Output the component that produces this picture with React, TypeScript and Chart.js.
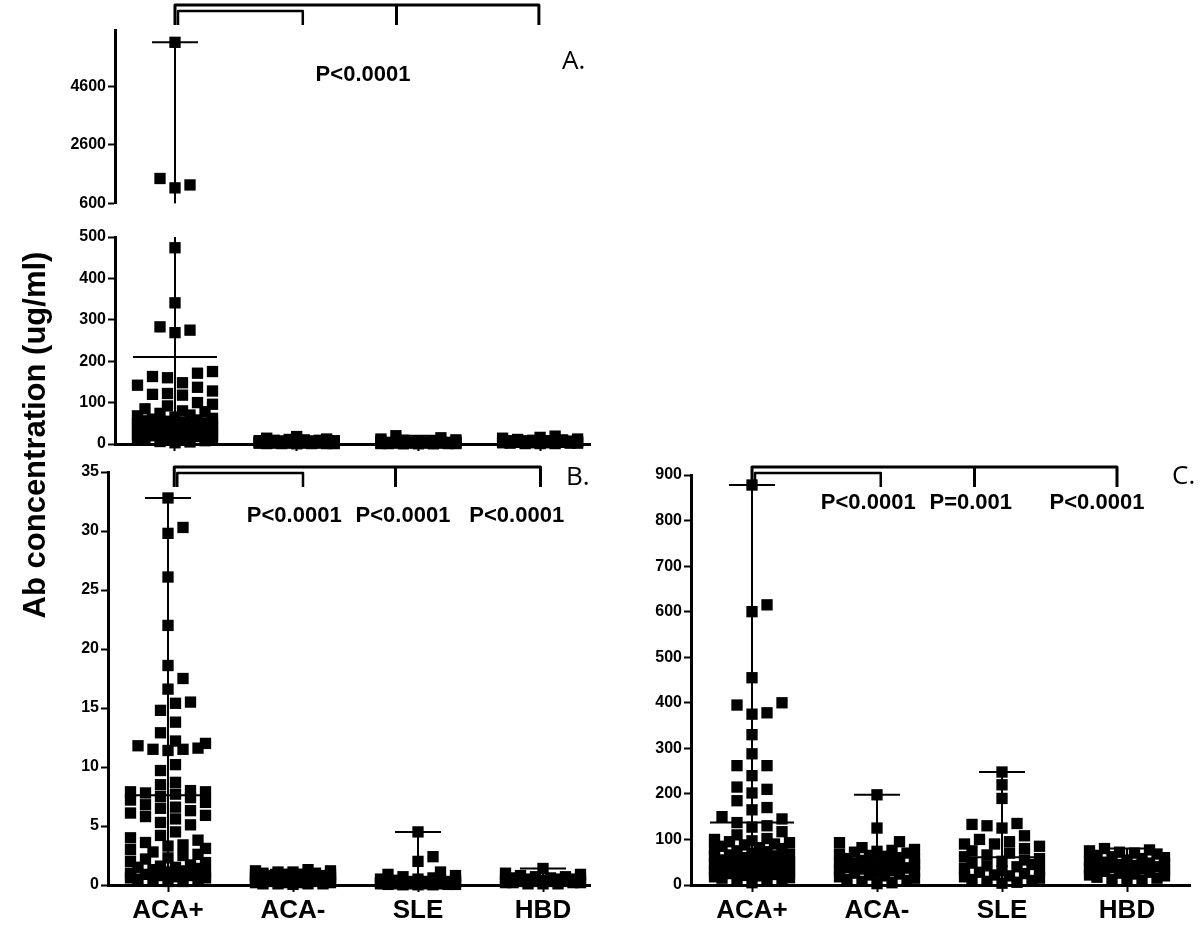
import React, { useEffect, useRef } from 'react';
import { Chart, registerables } from 'chart.js';
Chart.register(...registerables);

// ---------------- data ----------------
const categories = ['ACA+', 'ACA-', 'SLE', 'HBD'];

// Panel A (broken axis: upper 600-6500, lower 0-500)
const aAcaPos = [6100, 1450, 1230, 1130, 474, 341, 283, 275, 269, 175, 171, 163, 160, 148, 142, 137, 128, 122, 120, 118, 100, 96, 92, 85, 80, 78, 74, 70, 68, 65, 62, 60, 58, 56, 55, 53, 51, 50, 48, 46, 45, 43, 42, 40, 38, 36, 35, 33, 31, 30, 28, 26, 25, 23, 21, 20, 18, 16, 15, 13, 11, 10, 8, 6, 5, 3];
const aAcaNeg = [18, 14, 12, 11, 10, 9, 9, 8, 8, 7, 7, 6, 6, 6, 5, 5, 5, 4, 4, 4, 4, 3, 3, 3, 3, 2, 2, 2, 2, 2, 1, 1, 1, 1, 1, 0.5];
const aSle = [20, 15, 12, 10, 9, 8, 7, 7, 6, 6, 5, 5, 5, 4, 4, 4, 3, 3, 3, 3, 2, 2, 2, 2, 1, 1, 1, 1, 0.5, 0.5, 0.5];
const aHbd = [19, 16, 14, 12, 11, 10, 9, 8, 8, 7, 7, 6, 6, 5, 5, 4, 4, 3, 3, 3, 2, 2, 2, 1, 1, 1];
const aMeans = [210, 5, 5, 6];
const aUpperTicks = [600, 2600, 4600];
const aLowerTicks = [0, 100, 200, 300, 400, 500];
const aPTexts = ['P<0.0001'];

// Panel B
const bAcaPos = [32.8, 30.3, 29.8, 26.1, 22.0, 18.6, 17.5, 16.6, 15.5, 15.4, 14.8, 13.8, 12.9, 12.2, 12.0, 11.8, 11.6, 11.5, 11.5, 11.4, 10.2, 9.7, 8.7, 8.5, 8.0, 7.9, 7.9, 7.8, 7.7, 7.5, 7.4, 7.2, 7.0, 6.8, 6.6, 6.5, 6.3, 6.1, 5.9, 5.8, 5.6, 5.3, 5.1, 4.5, 4.2, 4.0, 3.8, 3.6, 3.4, 3.3, 3.1, 3.0, 2.8, 2.6, 2.5, 2.3, 2.2, 2.0, 1.9, 1.7, 1.6, 1.5, 1.5, 1.4, 1.3, 1.2, 1.1, 1.0, 1.0, 0.9, 0.8, 0.8, 0.7, 0.6, 0.6, 0.5, 0.5, 0.4, 0.3, 0.3];
const bAcaNeg = [1.3, 1.2, 1.2, 1.1, 1.1, 1.0, 1.0, 0.9, 0.9, 0.9, 0.8, 0.8, 0.8, 0.7, 0.7, 0.7, 0.6, 0.6, 0.6, 0.5, 0.5, 0.5, 0.5, 0.4, 0.4, 0.4, 0.4, 0.3, 0.3, 0.3, 0.3, 0.2, 0.2, 0.2, 0.2, 0.1, 0.1, 0.1, 0.1, 0.05];
const bSle = [4.5, 2.4, 2.0, 1.1, 0.9, 0.8, 0.7, 0.6, 0.5, 0.5, 0.4, 0.4, 0.4, 0.3, 0.3, 0.3, 0.3, 0.2, 0.2, 0.2, 0.2, 0.2, 0.1, 0.1, 0.1, 0.1, 0.1, 0.05, 0.05, 0.05, 0.02, 0.02, 0.02];
const bHbd = [1.4, 1.0, 0.9, 0.8, 0.7, 0.7, 0.6, 0.6, 0.5, 0.5, 0.5, 0.4, 0.4, 0.4, 0.3, 0.3, 0.3, 0.3, 0.2, 0.2, 0.2, 0.2, 0.1, 0.1, 0.1];
const bMeans = [7.6, 0.55, 0.45, 0.4];
const bTicks = [0, 5, 10, 15, 20, 25, 30, 35];
const bPTexts = ['P<0.0001', 'P<0.0001', 'P<0.0001'];

// Panel C
const cAcaPos = [878, 615, 600, 455, 400, 395, 378, 375, 330, 288, 262, 262, 240, 215, 210, 202, 185, 170, 165, 150, 145, 137, 130, 127, 117, 110, 102, 100, 97, 95, 93, 90, 88, 85, 82, 80, 78, 75, 73, 70, 68, 66, 64, 62, 60, 58, 56, 55, 53, 51, 50, 48, 46, 45, 43, 41, 40, 38, 36, 35, 33, 31, 30, 28, 26, 25, 23, 21, 20, 18, 16, 15, 12, 10, 8, 5];
const cAcaNeg = [198, 125, 95, 93, 82, 78, 76, 74, 72, 70, 68, 65, 63, 60, 58, 56, 54, 52, 50, 48, 47, 45, 44, 42, 40, 38, 37, 35, 33, 31, 30, 28, 26, 24, 22, 20, 18, 15, 12, 10, 8, 5, 3];
const cSle = [248, 220, 190, 135, 133, 130, 125, 108, 100, 95, 90, 90, 85, 80, 75, 70, 66, 62, 58, 55, 52, 48, 45, 42, 40, 37, 34, 31, 28, 25, 22, 20, 18, 15, 12, 10, 8, 6, 4];
const cHbd = [80, 77, 75, 72, 70, 68, 65, 62, 60, 58, 55, 52, 50, 48, 46, 45, 43, 41, 40, 38, 37, 35, 33, 31, 30, 28, 26, 24, 22, 20, 17, 15, 12, 10, 8];
const cMeans = [137, 48, 61, 40];
const cTicks = [0, 100, 200, 300, 400, 500, 600, 700, 800, 900];
const cPTexts = ['P<0.0001', 'P=0.001', 'P<0.0001'];

const yTitle = 'Ab concentration (ug/ml)';
const panelLetters = ['A.', 'B.', 'C.'];

// ---------------- styling ----------------
const SANS = '"Liberation Sans", Arial, Helvetica, sans-serif';
const LETTER = '"Open Sans", "Liberation Sans", Arial, sans-serif';

interface Spec {
  box: [number, number, number, number];
  plot: [number, number, number, number];
  xRange: [number, number];
  yRange: [number, number];
  yTicks: number[];
  xAxis: 'none' | 'ticks' | 'labels';
  groups: number[][];
  shown: number[][];
  means: number[];
  bracket?: { start: number; ends: number[]; top: number; inner: number; bottom: number };
  pTexts?: { text: string; x: number; dy: number }[];
  letter?: { text: string; x: number; y: number };
  title?: { text: string; x: number; y: number };
}

function swarm(ys: number[], side: number, step: number, maxHalf: number): number[] {
  // lowest values first, centre column preferred, then right, then left
  const order = ys.map((_, i) => i).sort((a, b) => ys[b] - ys[a]);
  const cands: number[] = [0];
  for (let k = 1; k * step <= maxHalf + 0.01; k++) cands.push(k * step, -k * step);
  const placed: { x: number; y: number }[] = [];
  const out: number[] = new Array(ys.length).fill(0);
  for (const i of order) {
    const y = ys[i];
    let best = 0;
    let bestScore = Infinity;
    for (const c of cands) {
      let score = 0;
      for (const p of placed) {
        const dx = Math.abs(p.x - c);
        const dy = Math.abs(p.y - y);
        if (dx < side && dy < side) score += (side - dx) * (side - dy);
      }
      if (score === 0) { best = c; bestScore = 0; break; }
      if (score < bestScore) { bestScore = score; best = c; }
    }
    placed.push({ x: best, y });
    out[i] = best;
  }
  return out;
}

function makeChart(canvas: HTMLCanvasElement, s: Spec): Chart {
  const [cl, ct, cw, chh] = s.box;
  const [pl, pt, pr, pb] = s.plot;
  const yW = 50;
  const xH = s.xAxis === 'labels' ? 45 : s.xAxis === 'ticks' ? 10 : 0;
  const padding = {
    left: pl - cl - yW,
    top: pt - ct,
    right: cl + cw - pr,
    bottom: ct + chh - pb - xH,
  };

  const overlay = {
    id: 'overlay',
    afterDatasetsDraw(chart: any) {
      const { ctx } = chart;
      const xs = chart.scales.x;
      const ysc = chart.scales.y;
      const [y0, y1] = s.yRange;
      ctx.save();
      ctx.strokeStyle = '#000';
      ctx.lineWidth = 2;
      const line = (x1: number, yA: number, x2: number, yB: number) => {
        ctx.beginPath();
        ctx.moveTo(x1, yA);
        ctx.lineTo(x2, yB);
        ctx.stroke();
      };
      s.groups.forEach((vals, gi) => {
        const vmax = Math.max(...vals);
        const vmin = Math.min(...vals);
        if (vmax < y0 || vmin > y1) return;
        const cx = xs.getPixelForValue(gi);
        const top = ysc.getPixelForValue(Math.min(vmax, y1));
        const bot = ysc.getPixelForValue(Math.max(vmin, y0));
        line(cx, top, cx, bot);
        if (vmax <= y1 && vmax >= y0) {
          const yy = ysc.getPixelForValue(vmax);
          line(cx - 23, yy, cx + 23, yy);
        }
        const m = s.means[gi];
        if (m >= y0 && m <= y1) {
          const ym = ysc.getPixelForValue(m);
          line(cx - 42, ym, cx + 42, ym);
        }
      });
      ctx.restore();
    },
    afterDraw(chart: any) {
      const { ctx, chartArea: a } = chart;
      const xs = chart.scales.x;
      ctx.save();
      ctx.strokeStyle = '#000';
      ctx.fillStyle = '#000';
      if (s.bracket) {
        const b = s.bracket;
        const xl = xs.getPixelForValue(b.start);
        const e = b.ends.map((v) => xs.getPixelForValue(v));
        const yt = a.top + b.top;
        const yi = a.top + b.inner;
        const yb = a.top + b.bottom;
        ctx.lineJoin = 'round';
        ctx.lineWidth = 3;
        ctx.beginPath();
        ctx.moveTo(xl, yb);
        ctx.lineTo(xl, yt);
        ctx.lineTo(e[2], yt);
        ctx.lineTo(e[2], yb);
        ctx.moveTo(e[1], yt);
        ctx.lineTo(e[1], yb);
        ctx.stroke();
        ctx.lineWidth = 2.5;
        ctx.beginPath();
        ctx.moveTo(xl + 3, yb);
        ctx.lineTo(xl + 3, yi);
        ctx.lineTo(e[0], yi);
        ctx.lineTo(e[0], yb);
        ctx.stroke();
      }
      if (s.pTexts) {
        ctx.font = `bold 22px ${SANS}`;
        ctx.textAlign = 'center';
        ctx.textBaseline = 'middle';
        s.pTexts.forEach((p) => ctx.fillText(p.text, xs.getPixelForValue(p.x), a.top + p.dy));
      }
      if (s.letter) {
        ctx.font = `26px ${LETTER}`;
        ctx.textAlign = 'left';
        ctx.textBaseline = 'middle';
        ctx.fillText(s.letter.text, s.letter.x, s.letter.y);
      }
      if (s.title) {
        ctx.translate(s.title.x, s.title.y);
        ctx.rotate(-Math.PI / 2);
        ctx.font = `bold 31px ${SANS}`;
        ctx.textAlign = 'center';
        ctx.textBaseline = 'middle';
        ctx.fillText(s.title.text, 0, 0);
      }
      ctx.restore();
    },
  };

  const chart = new Chart(canvas, {
    type: 'scatter',
    data: {
      datasets: s.shown.map((vals, gi) => ({
        label: categories[gi],
        data: vals.map((v) => ({ x: gi, y: v })),
        pointStyle: 'rect',
        pointRadius: 8,
        pointHoverRadius: 8,
        backgroundColor: '#000',
        borderColor: '#000',
        borderWidth: 0,
        clip: false,
      })),
    } as any,
    options: {
      responsive: false,
      animation: false,
      events: [],
      layout: { padding },
      plugins: { legend: { display: false }, tooltip: { enabled: false } },
      scales: {
        x: {
          type: 'linear',
          min: s.xRange[0],
          max: s.xRange[1],
          display: s.xAxis !== 'none',
          afterBuildTicks: (sc: any) => {
            sc.ticks = categories.map((_, i) => ({ value: i }));
          },
          afterFit: (sc: any) => {
            sc.height = xH;
          },
          ticks: {
            display: s.xAxis === 'labels',
            autoSkip: false,
            maxRotation: 0,
            padding: 3,
            color: '#000',
            font: { family: SANS, size: 26, weight: 'bold' },
            callback: (v: any) => categories[Math.round(Number(v))] ?? '',
          },
          grid: { drawOnChartArea: false, drawTicks: true, tickLength: 7, tickWidth: 2, color: '#000' },
          border: { display: true, width: 3, color: '#000' },
        },
        y: {
          type: 'linear',
          min: s.yRange[0],
          max: s.yRange[1],
          afterBuildTicks: (sc: any) => {
            sc.ticks = s.yTicks.map((v) => ({ value: v }));
          },
          afterFit: (sc: any) => {
            sc.width = yW;
          },
          ticks: {
            color: '#000',
            padding: 2,
            font: { family: SANS, size: 16, weight: 'bold' },
            callback: (v: any) => String(v),
          },
          grid: { drawOnChartArea: false, drawTicks: true, tickLength: 7, tickWidth: 2, color: '#000' },
          border: { display: true, width: 3, color: '#000' },
        },
      },
    } as any,
    plugins: [overlay as any],
  });

  // beeswarm layout computed through the chart's own scales
  const xs: any = chart.scales.x;
  const ysc: any = chart.scales.y;
  chart.data.datasets.forEach((ds: any, gi: number) => {
    const vals = s.shown[gi];
    const cx = xs.getPixelForValue(gi);
    const offs = swarm(vals.map((v) => ysc.getPixelForValue(v)), 12, 7.5, 38);
    ds.data = vals.map((v, k) => ({ x: xs.getValueForPixel(cx + offs[k]), y: v }));
  });
  chart.update('none');
  return chart;
}

const aGroups = [aAcaPos, aAcaNeg, aSle, aHbd];
const bGroups = [bAcaPos, bAcaNeg, bSle, bHbd];
const cGroups = [cAcaPos, cAcaNeg, cSle, cHbd];

const specs: Spec[] = [
  {
    box: [0, 0, 600, 930],
    plot: [108, 472, 590, 885],
    xRange: [-0.48, 3.376],
    yRange: [0, 35],
    yTicks: bTicks,
    xAxis: 'labels',
    groups: bGroups,
    shown: bGroups,
    means: bMeans,
    bracket: { start: 0.05, ends: [1.08, 1.82, 2.98], top: -5, inner: 1, bottom: 15 },
    pTexts: [
      { text: bPTexts[0], x: 1.01, dy: 44 },
      { text: bPTexts[1], x: 1.88, dy: 44 },
      { text: bPTexts[2], x: 2.79, dy: 44 },
    ],
    letter: { text: panelLetters[1], x: 566, y: 478 },
    title: { text: yTitle, x: 36, y: 435 },
  },
  {
    box: [0, 0, 600, 215],
    plot: [115, 30, 590, 209],
    xRange: [-0.493, 3.41],
    yRange: [600, 6520],
    yTicks: aUpperTicks,
    xAxis: 'none',
    groups: aGroups,
    shown: aGroups.map((g) => g.filter((v) => v >= 600)),
    means: aMeans,
    bracket: { start: 0, ends: [1.05, 1.82, 2.99], top: -25, inner: -19, bottom: -5 },
    pTexts: [{ text: aPTexts[0], x: 1.545, dy: 45 }],
    letter: { text: panelLetters[0], x: 562, y: 62 },
  },
  {
    box: [0, 215, 600, 245],
    plot: [115, 237, 590, 444],
    xRange: [-0.493, 3.41],
    yRange: [0, 500],
    yTicks: aLowerTicks,
    xAxis: 'ticks',
    groups: aGroups,
    shown: aGroups.map((g) => g.filter((v) => v <= 500)),
    means: aMeans,
  },
  {
    box: [600, 440, 600, 490],
    plot: [691, 475, 1190, 885],
    xRange: [-0.488, 3.504],
    yRange: [0, 900],
    yTicks: cTicks,
    xAxis: 'labels',
    groups: cGroups,
    shown: cGroups,
    means: cMeans,
    bracket: { start: 0, ends: [1.03, 1.78, 2.92], top: -8, inner: -2, bottom: 12 },
    pTexts: [
      { text: cPTexts[0], x: 0.93, dy: 28 },
      { text: cPTexts[1], x: 1.75, dy: 28 },
      { text: cPTexts[2], x: 2.76, dy: 28 },
    ],
    letter: { text: panelLetters[2], x: 572, y: 37 },
  },
];

export default function App() {
  const refs = useRef<(HTMLCanvasElement | null)[]>([]);
  useEffect(() => {
    document.body.style.margin = '0';
    const charts = specs.map((s, i) => makeChart(refs.current[i] as HTMLCanvasElement, s));
    return () => charts.forEach((c) => c.destroy());
  }, []);
  return (
    <div style={{ position: 'relative', width: 1200, height: 930, background: '#fff', overflow: 'hidden' }}>
      {specs.map((s, i) => (
        <canvas
          key={i}
          ref={(el) => { refs.current[i] = el; }}
          width={s.box[2]}
          height={s.box[3]}
          style={{ position: 'absolute', left: s.box[0], top: s.box[1], width: s.box[2], height: s.box[3] }}
        />
      ))}
    </div>
  );
}
